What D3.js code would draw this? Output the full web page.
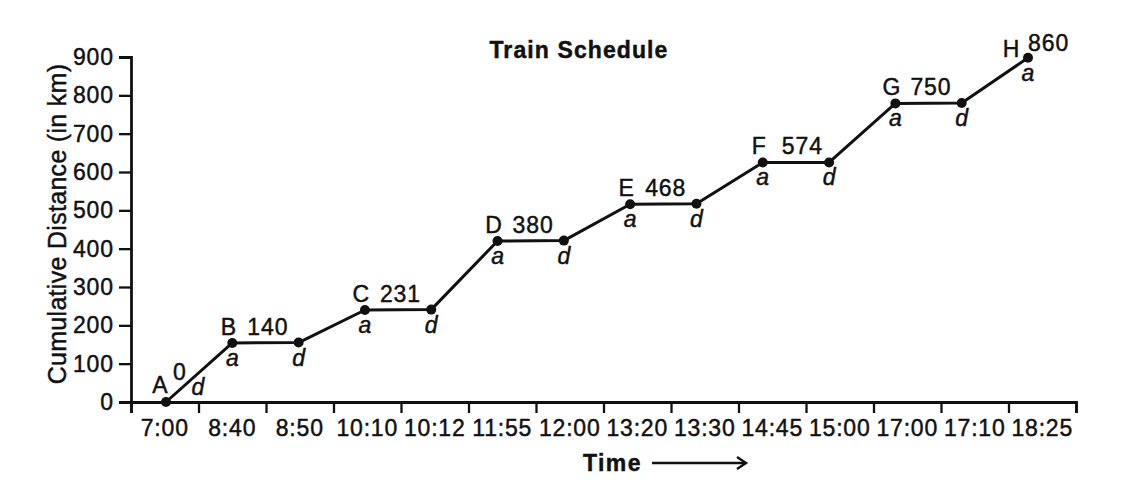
<!DOCTYPE html>
<html>
<head>
<meta charset="utf-8">
<script src="https://cdn.jsdelivr.net/npm/d3@7"></script>
<style>
  html, body { margin: 0; padding: 0; background: #fff; }
  svg { display: block; }
  text { font-family: "Liberation Sans", Arial, Helvetica, sans-serif; fill: #111; stroke: #111; stroke-width: 0.45px; }
</style>
</head>
<body>
<svg id="chart" width="1144" height="501"></svg>
<script>
// ---- data ----
const times = ["7:00","8:40","8:50","10:10","10:12","11:55","12:00","13:20","13:30","14:45","15:00","17:00","17:10","18:25"];
// cumulative distance of each plotted point, as drawn (km)
const plotted = [0,154,155,240,241,420,421,516,517,625,625,779,780,898];
// arrival (a) / departure (d) marks for each point
const marks = ["d","a","d","a","d","a","d","a","d","a","d","a","d","a"];
const stations = ["A","B","C","D","E","F","G","H"];
const stationKm = [0,140,231,380,468,574,750,860];
const stationPoint = [0,1,3,5,7,9,11,13];
const yTicks = [0,100,200,300,400,500,600,700,800,900];
const chartTitle = "Train Schedule";
const yTitle = "Cumulative Distance (in km)";
const xTitle = "Time";

// ---- layout ----
const svg = d3.select("#chart");
const mLeft = 131, mRight = 1076, mTop = 57, mBottom = 402;

const y = d3.scaleLinear().domain([0, 900]).range([mBottom, mTop]);
const xBand = d3.scaleBand().domain(times).range([mLeft, mRight]);
const xEdge = d3.scaleLinear().domain([0, times.length]).range([mLeft, mRight]);
const xPt = d3.scalePoint().domain(times).range([166, 1028]);

const numFont = "23px";

// y axis
const gy = svg.append("g").attr("transform", `translate(${mLeft},0)`)
  .call(d3.axisLeft(y).tickValues(yTicks).tickSize(12).tickPadding(5));
gy.select(".domain").attr("stroke", "#111").attr("stroke-width", 2.8);
gy.selectAll(".tick line").attr("stroke", "#111").attr("stroke-width", 2.3);
gy.selectAll(".tick text").style("font-size", numFont).style("letter-spacing", "0.9px").attr("fill", "#111");

// x axis: boundary ticks
const gxe = svg.append("g").attr("transform", `translate(0,${mBottom})`)
  .call(d3.axisBottom(xEdge).tickValues(d3.range(times.length + 1)).tickFormat("").tickSize(11));
gxe.select(".domain").attr("stroke", "#111").attr("stroke-width", 2.8);
gxe.selectAll(".tick line").attr("stroke", "#111").attr("stroke-width", 2.3);

// x axis: labels centred in bands
const gxl = svg.append("g").attr("transform", `translate(0,${mBottom})`)
  .call(d3.axisBottom(xBand).tickSize(0).tickPadding(18));
gxl.select(".domain").remove();
gxl.selectAll(".tick text").style("font-size", numFont).style("letter-spacing", "0.8px").attr("fill", "#111");

// line
const pts = times.map((t, i) => ({t, v: plotted[i], m: marks[i], i}));
svg.append("path").datum(pts)
  .attr("fill", "none").attr("stroke", "#111").attr("stroke-width", 3)
  .attr("stroke-linejoin", "round")
  .attr("d", d3.line().x(d => xPt(d.t)).y(d => y(d.v)));

svg.selectAll("circle.pt").data(pts).join("circle")
  .attr("class", "pt")
  .attr("cx", d => xPt(d.t)).attr("cy", d => y(d.v)).attr("r", 5)
  .attr("fill", "#111");

// a / d marks
svg.selectAll("text.mk").data(pts).join("text")
  .attr("class", "mk")
  .attr("x", d => xPt(d.t) + (d.i === 0 ? 32 : 0))
  .attr("y", d => y(d.v) + (d.i === 0 ? -7 : 23))
  .attr("text-anchor", "middle")
  .style("font-size", "23px").style("font-style", "italic")
  .text(d => d.m);

// station labels
const st = stations.map((s, k) => {
  const p = pts[stationPoint[k]];
  return {s, km: stationKm[k], x: xPt(p.t), y: y(p.v), k};
});
const letterOff = k => k === 0 ? [-6, -9] : k === 7 ? [-17, -1] : [-4, -8];
const numOff = k => k === 0 ? [7, -22] : k === 7 ? [0, -7] : k === 5 ? [19, -8] : [15, -8];

svg.selectAll("text.stl").data(st).join("text")
  .attr("class", "stl")
  .attr("x", d => d.x + letterOff(d.k)[0])
  .attr("y", d => d.y + letterOff(d.k)[1])
  .attr("text-anchor", "middle")
  .style("font-size", "23px")
  .text(d => d.s);

svg.selectAll("text.stn").data(st).join("text")
  .attr("class", "stn")
  .attr("x", d => d.x + numOff(d.k)[0])
  .attr("y", d => d.y + numOff(d.k)[1])
  .style("font-size", "23px").style("letter-spacing", "0.9px")
  .text(d => d.km);

// titles
svg.append("text").attr("x", 579).attr("y", 58).attr("text-anchor", "middle")
  .style("font-size", "23px").style("font-weight", "bold").style("letter-spacing", "1.1px")
  .text(chartTitle);

svg.append("text").attr("transform", "translate(66,224) rotate(-90)")
  .attr("text-anchor", "middle")
  .style("font-size", "25px").style("letter-spacing", "0.3px")
  .text(yTitle);

svg.append("text").attr("x", 583).attr("y", 471)
  .style("font-size", "23px").style("font-weight", "bold").style("letter-spacing", "1.4px")
  .text(xTitle);

svg.append("line").attr("x1", 652).attr("x2", 745).attr("y1", 463).attr("y2", 463)
  .attr("stroke", "#111").attr("stroke-width", 2.4);
svg.append("path").attr("d", "M737,457 L746,463 L737,469")
  .attr("fill", "none").attr("stroke", "#111").attr("stroke-width", 2.4);
</script>
</body>
</html>
